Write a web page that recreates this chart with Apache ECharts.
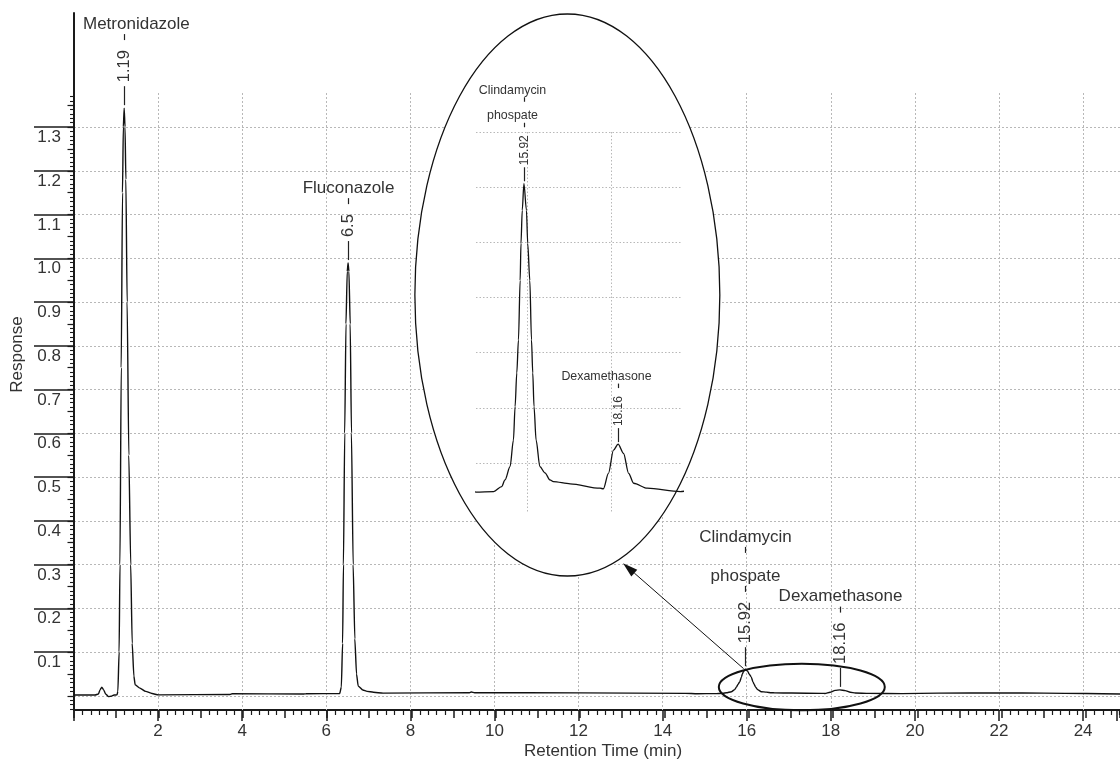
<!DOCTYPE html>
<html><head><meta charset="utf-8">
<script src="https://cdn.jsdelivr.net/npm/echarts@6/dist/echarts.min.js"></script>
<style>html,body{margin:0;padding:0;background:#fff}#chart{width:1120px;height:765px}</style>
</head><body><div id="chart"></div>
<script>
// ---------------- data ----------------
const times = [0, 0.50, 0.58, 0.62, 0.66, 0.70, 0.75, 0.82, 0.88, 0.95, 1.02,
  1.04, 1.07, 1.09, 1.12, 1.15, 1.17, 1.19, 1.21, 1.23, 1.26, 1.30, 1.345, 1.38, 1.42, 1.45, 1.55, 1.70, 1.85, 2.00,
  3.70, 3.75, 5.45, 5.50,
  6.30, 6.34, 6.37, 6.39, 6.42, 6.45, 6.48, 6.50, 6.52, 6.55, 6.58, 6.62, 6.66, 6.70, 6.74, 6.85, 6.95, 7.10, 7.33,
  9.38, 9.42, 9.50, 12.0, 14.5,
  14.78, 15.20, 15.39, 15.47, 15.59, 15.67, 15.71, 15.75, 15.79, 15.83, 15.85, 15.88, 15.92, 15.98, 16.01, 16.06,
  16.10, 16.13, 16.16, 16.21, 16.30, 16.42, 16.54, 16.62, 17.02, 17.73, 17.81, 17.93, 18.05, 18.16, 18.29, 18.41,
  18.53, 18.85, 19.64,
  20.5, 22.0, 23.0, 24.0, 24.81];
const responses = [0.0017, 0.0017, 0.004, 0.014, 0.0193, 0.014, 0.004, -0.002, -0.001, 0.0017, 0.002,
  0.01, 0.10, 0.30, 0.75, 1.15, 1.30, 1.343, 1.30, 1.18, 0.90, 0.55, 0.30, 0.12, 0.045, 0.025, 0.018, 0.010, 0.005, 0.002,
  0.003, 0.0045, 0.004, 0.0045,
  0.005, 0.02, 0.12, 0.30, 0.60, 0.85, 0.97, 0.989, 0.97, 0.85, 0.60, 0.30, 0.13, 0.05, 0.022, 0.013, 0.010, 0.008, 0.006,
  0.007, 0.0085, 0.007, 0.0065, 0.0055,
  0.0047, 0.0048, 0.0057, 0.0069, 0.0093, 0.0141, 0.0202, 0.0263, 0.0323, 0.0431, 0.0498, 0.0558, 0.0607, 0.0558, 0.0498, 0.0431,
  0.0323, 0.0263, 0.0202, 0.0141, 0.0093, 0.0082, 0.0069, 0.0066, 0.0062, 0.0054, 0.0053, 0.0081, 0.0123, 0.0134, 0.0117, 0.0081,
  0.0063, 0.0054, 0.0048,
  0.006, 0.0065, 0.006, 0.005, 0.004];

const peakTimes   = [1.19, 6.5, 15.92, 18.16];
const peakHeights = [1.343, 0.989, 0.0607, 0.0134];
const peakNumbers = ['1.19', '6.5', '15.92', '18.16'];
const peakNames   = [['Metronidazole'], ['Fluconazole'], ['Clindamycin', 'phospate'], ['Dexamethasone']];
const insetPeakIdx = [2, 3];

// annotation shapes in data space of the main plot
const zoomEllipse  = [17.26, 0.020, 1.968, 0.0533];   // cx, cy, rx, ry (small ellipse)
const insetEllipse = [11.70, 0.916, 3.616, 0.6423];   // cx, cy, rx, ry (big ellipse)
const arrowLine    = [15.88, 0.062, 13.02, 0.303];    // from (x,y) to (x,y)

const xAxisTitle = 'Retention Time (min)';
const yAxisTitle = 'Response';

// ---------------- layout ----------------
const W = 1120, H = 765;
const AX_LEFT = 74, AX_TOP = 13, AX_BOTTOM = 710;
const Y0 = 695.75, KY = 437.5;
const KX = (1086 - 74) / 24;
const X_MAX = (W - AX_LEFT) / KX;
const Y_MIN = (Y0 - AX_BOTTOM) / KY, Y_MAX = (Y0 - AX_TOP) / KY;
const py = v => Y0 - v * KY;
const INS = {left: 476, width: 206, top: 132, bottomPx: 518, xMin: 14.78, xMax: 19.68, yMin: 0, yMax: 0.07};
const KXI = INS.width / (INS.xMax - INS.xMin);

const FONT = '"Liberation Sans", Arial, Helvetica, sans-serif';
const TXT = '#333';
const AXC = '#1a1a1a';
const GRIDC = '#b8b8b8';

const mctx = document.createElement('canvas').getContext('2d');
function tw(text, font) { mctx.font = font; return mctx.measureText(text).width; }

const data = times.map((t, i) => [t, responses[i]]);

const grids = [
  {left: AX_LEFT, right: 0, top: AX_TOP, bottom: H - AX_BOTTOM},                       // 0 main
  {left: AX_LEFT, right: 0, top: 93, bottom: H - AX_BOTTOM},                           // 1 vertical grid + x labels
  {left: AX_LEFT, right: 0, top: py(1.3), bottom: H - py(0)},                          // 2 horizontal grid
  {left: AX_LEFT, right: 0, top: py(1.3), bottom: H - py(0.1)},                        // 3 y major ticks
  {left: AX_LEFT, right: 0, top: py(1.35), bottom: H - py(0)},                         // 4 y medium ticks
  {left: AX_LEFT, right: 0, top: py(1.37), bottom: H - py(-0.03)},                     // 5 y minor ticks
  {left: INS.left + (16 - INS.xMin) * KXI, width: 2 * KXI, top: INS.top, bottom: H - 513}, // 6 inset vertical grid
  {left: INS.left, width: INS.width, top: INS.top, bottom: H - 463},                   // 7 inset horizontal grid
  {left: INS.left, width: INS.width, top: INS.top, bottom: H - INS.bottomPx}           // 8 inset data
];

const hidden = (g, min, max) => ({type: 'value', gridIndex: g, show: false, min, max});
const dotted = {type: [2, 2], color: GRIDC, width: 1};
const bare = {axisLine: {show: false, onZero: false}, axisTick: {show: false}, axisLabel: {show: false}};

const xAxes = [
  {type: 'value', gridIndex: 0, min: 0, max: X_MAX, interval: 1, position: 'bottom',
   axisLine: {show: true, onZero: false, lineStyle: {color: AXC, width: 2}},
   axisTick: {show: true, length: 8, lineStyle: {color: AXC, width: 1.5}},
   minorTick: {show: true, splitNumber: 5, length: 5, lineStyle: {color: AXC, width: 1.2}},
   axisLabel: {show: false}, splitLine: {show: false},
   name: xAxisTitle, nameLocation: 'middle', nameGap: 33,
   nameTextStyle: {fontSize: 17, color: TXT, fontFamily: FONT, padding: [0, 0, 0, 12]}},
  {type: 'value', gridIndex: 1, min: 0, max: X_MAX, interval: 2, position: 'bottom', z: 1,
   axisLine: {show: false, onZero: false},
   axisTick: {show: true, length: 11, lineStyle: {color: AXC, width: 1.5}},
   axisLabel: {show: true, margin: 13, fontSize: 17, color: TXT, fontFamily: FONT,
     formatter: v => (v > 0 && v < X_MAX - 0.5) ? String(Math.round(v)) : ''},
   splitLine: {show: true, showMinLine: false, showMaxLine: false, lineStyle: dotted}},
  hidden(2, 0, 1), hidden(3, 0, 1), hidden(4, 0, 1), hidden(5, 0, 1),
  Object.assign({type: 'value', gridIndex: 6, min: 16, max: 18, interval: 2, z: 3,
   splitLine: {show: true, lineStyle: {type: [1.5, 2], color: GRIDC, width: 1}}}, bare),
  hidden(7, 0, 1),
  {type: 'value', gridIndex: 8, show: false, min: INS.xMin, max: INS.xMax}
];

const yAxes = [
  {type: 'value', gridIndex: 0, min: Y_MIN, max: Y_MAX, position: 'left',
   axisLine: {show: true, onZero: false, lineStyle: {color: AXC, width: 2}},
   axisTick: {show: false}, axisLabel: {show: false}, splitLine: {show: false},
   name: yAxisTitle, nameLocation: 'middle', nameGap: 48,
   nameTextStyle: {fontSize: 17, color: TXT, fontFamily: FONT, padding: [0, 0, 0, 14]}},
  hidden(1, 0, 1),
  Object.assign({type: 'value', gridIndex: 2, min: 0, max: 1.3, interval: 0.1,
   splitLine: {show: true, lineStyle: dotted}}, bare),
  {type: 'value', gridIndex: 3, min: 0.1, max: 1.3, interval: 0.1, position: 'left',
   axisLine: {show: false, onZero: false},
   axisTick: {show: true, length: 40, lineStyle: {color: AXC, width: 1.6}},
   axisLabel: {show: true, margin: 13, fontSize: 17, color: TXT, fontFamily: FONT,
     verticalAlign: 'top', padding: [2, 0, 0, 0], formatter: v => v.toFixed(1)},
   splitLine: {show: false}},
  {type: 'value', gridIndex: 4, min: 0, max: 1.35, interval: 0.05, position: 'left',
   axisLine: {show: false, onZero: false}, axisLabel: {show: false}, splitLine: {show: false},
   axisTick: {show: true, length: 6.5, lineStyle: {color: AXC, width: 1.2}}},
  {type: 'value', gridIndex: 5, min: -0.03, max: 1.37, interval: 0.01, position: 'left',
   axisLine: {show: false, onZero: false}, axisLabel: {show: false}, splitLine: {show: false},
   axisTick: {show: true, length: 4, lineStyle: {color: AXC, width: 1.1}}},
  hidden(6, 0, 1),
  Object.assign({type: 'value', gridIndex: 7, min: 0.01, max: 0.07, interval: 0.01, z: 3,
   splitLine: {show: true, lineStyle: {type: [1.5, 2], color: GRIDC, width: 1}}}, bare),
  {type: 'value', gridIndex: 8, show: false, min: INS.yMin, max: INS.yMax}
];

// leader annotation renderer
function leaderRender(o) {
  return function (params, api) {
    const idx = api.value(2);
    const p = api.coord([api.value(0), api.value(1)]);
    const x = Math.round(p[0]) + 0.5, y = p[1];
    const numFont = o.numSize + 'px ' + FONT, nameFont = o.nameSize + 'px ' + FONT;
    const ch = [];
    const ls = {stroke: '#222', lineWidth: 1.2};
    ch.push({type: 'line', shape: {x1: x, y1: y - o.g0, x2: x, y2: y - o.g1}, style: ls});
    const ns = y - o.numGap;
    ch.push({type: 'text', x: x, y: ns, rotation: Math.PI / 2,
      style: {text: peakNumbers[idx], font: numFont, fill: TXT, align: 'left', verticalAlign: 'middle'}});
    let db = ns - tw(peakNumbers[idx], numFont) - o.dashGap;
    const names = peakNames[idx];
    for (let k = names.length - 1; k >= 0; k--) {
      ch.push({type: 'line', shape: {x1: x, y1: db, x2: x, y2: db - o.dashLen}, style: ls});
      const cy = db - o.dashLen - o.nameGap;
      const w = tw(names[k], nameFont);
      let cx = x + o.nameDx;
      if (o.minLeft != null) cx = Math.max(cx, o.minLeft + w / 2);
      ch.push({type: 'text', x: cx, y: cy,
        style: {text: names[k], font: nameFont, fill: TXT, align: 'center', verticalAlign: 'middle'}});
      db = cy - o.nameGap2;
    }
    return {type: 'group', children: ch};
  };
}

const series = [
  {type: 'line', xAxisIndex: 0, yAxisIndex: 0, data: data, showSymbol: false, z: 2,
   smooth: 0.2, smoothMonotone: 'x',
   lineStyle: {color: '#111', width: 1.4}, clip: true},
  // big ellipse (inset frame, white fill)
  {type: 'custom', xAxisIndex: 0, yAxisIndex: 0, z: 2, data: [insetEllipse],
   renderItem: (params, api) => {
     const c = api.coord([api.value(0), api.value(1)]);
     const s = api.size([api.value(2), api.value(3)]);
     return {type: 'ellipse', shape: {cx: c[0], cy: c[1], rx: s[0], ry: s[1]},
       style: {fill: '#fff', stroke: '#111', lineWidth: 1.3}};
   }},
  // small ellipse
  {type: 'custom', xAxisIndex: 0, yAxisIndex: 0, z: 3, data: [zoomEllipse],
   renderItem: (params, api) => {
     const c = api.coord([api.value(0), api.value(1)]);
     const s = api.size([api.value(2), api.value(3)]);
     return {type: 'ellipse', shape: {cx: c[0], cy: c[1], rx: s[0], ry: s[1]},
       style: {fill: 'none', stroke: '#111', lineWidth: 2}};
   }},
  // arrow
  {type: 'custom', xAxisIndex: 0, yAxisIndex: 0, z: 3, data: [arrowLine],
   renderItem: (params, api) => {
     const a = api.coord([api.value(0), api.value(1)]);
     const b = api.coord([api.value(2), api.value(3)]);
     const dx = b[0] - a[0], dy = b[1] - a[1], L = Math.hypot(dx, dy);
     const ux = dx / L, uy = dy / L, hl = 15, hw = 4.5;
     const bx = b[0] - ux * hl, by = b[1] - uy * hl;
     return {type: 'group', children: [
       {type: 'line', shape: {x1: a[0], y1: a[1], x2: bx, y2: by}, style: {stroke: '#111', lineWidth: 1}},
       {type: 'polygon', shape: {points: [[b[0], b[1]], [bx - uy * hw, by + ux * hw], [bx + uy * hw, by - ux * hw]]},
        style: {fill: '#111'}}]};
   }},
  // inset chromatogram
  {type: 'line', xAxisIndex: 8, yAxisIndex: 8, data: data, showSymbol: false, z: 4,
   smooth: 0.3, smoothMonotone: 'x',
   lineStyle: {color: '#111', width: 1.3}, clip: true},
  // main annotations
  {type: 'custom', xAxisIndex: 0, yAxisIndex: 0, z: 5,
   data: peakTimes.map((t, i) => [t, peakHeights[i], i]),
   renderItem: leaderRender({g0: 3, g1: 22, numGap: 26, numSize: 16.5, nameSize: 17, dashGap: 10,
     dashLen: 6, nameGap: 10, nameGap2: 23, nameDx: 0, minLeft: AX_LEFT + 9})},
  // inset annotations
  {type: 'custom', xAxisIndex: 8, yAxisIndex: 8, z: 5,
   data: insetPeakIdx.map(i => [peakTimes[i], peakHeights[i], i]),
   renderItem: leaderRender({g0: 2, g1: 16, numGap: 18, numSize: 12, nameSize: 12.4, dashGap: 8,
     dashLen: 4.5, nameGap: 7, nameGap2: 14, nameDx: -12})}
];

const chart = echarts.init(document.getElementById('chart'), null, {renderer: 'canvas', width: W, height: H});
chart.setOption({
  animation: false,
  backgroundColor: '#fff',
  textStyle: {fontFamily: FONT},
  grid: grids,
  xAxis: xAxes,
  yAxis: yAxes,
  series: series
});
</script>
</body></html>
